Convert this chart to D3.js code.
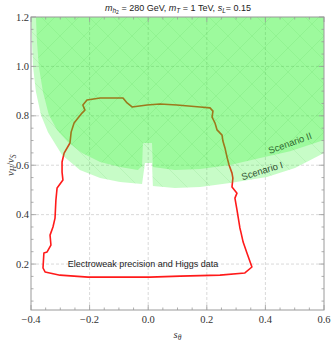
<!DOCTYPE html>
<html>
<head>
<meta charset="utf-8">
<script src="https://cdn.jsdelivr.net/npm/d3@7"></script>
<style>
  body { margin: 0; background: #fff; }
  svg { display: block; }
</style>
</head>
<body>
<svg id="chart"></svg>
<script>
// data (s_theta, vH/vS)
const contourPts = [
  [-0.209,0.864],[-0.164,0.872],[-0.086,0.872],[-0.072,0.852],[-0.055,0.836],[-0.004,0.844],
  [0.040,0.848],[0.098,0.844],[0.177,0.836],[0.211,0.832],[0.221,0.819],[0.218,0.795],
  [0.228,0.771],[0.235,0.743],[0.252,0.722],[0.255,0.698],[0.262,0.670],[0.269,0.633],
  [0.276,0.601],[0.286,0.568],[0.289,0.548],[0.286,0.512],[0.303,0.487],[0.296,0.467],
  [0.303,0.419],[0.313,0.346],[0.317,0.326],[0.324,0.289],[0.337,0.245],[0.354,0.188],
  [0.330,0.164],[0.245,0.155],[0.109,0.151],[0.006,0.147],[-0.096,0.147],[-0.205,0.147],
  [-0.301,0.155],[-0.352,0.168],[-0.359,0.184],[-0.356,0.245],[-0.345,0.249],[-0.332,0.277],
  [-0.335,0.317],[-0.325,0.350],[-0.318,0.386],[-0.315,0.459],[-0.311,0.508],[-0.291,0.540],
  [-0.294,0.572],[-0.294,0.613],[-0.287,0.649],[-0.267,0.690],[-0.263,0.734],[-0.253,0.771],
  [-0.226,0.811],[-0.216,0.823],[-0.223,0.844]
];

const scenario1 = [
  [-0.4,1.2],[-0.397,1.107],[-0.393,0.998],[-0.383,0.896],[-0.366,0.803],[-0.342,0.734],
  [-0.294,0.641],[-0.233,0.581],[-0.164,0.548],[-0.096,0.532],[-0.021,0.524],[-0.011,0.609],
  [0.013,0.609],[0.016,0.516],[0.091,0.508],[0.177,0.512],[0.279,0.528],[0.405,0.552],
  [0.501,0.589],[0.6,0.649],[0.6,1.2]
];

const scenario2 = [
  [-0.383,1.2],[-0.380,1.107],[-0.373,0.998],[-0.359,0.896],[-0.339,0.803],[-0.311,0.743],
  [-0.274,0.694],[-0.226,0.649],[-0.164,0.613],[-0.096,0.593],[-0.035,0.581],[-0.021,0.597],
  [-0.018,0.690],[0.013,0.690],[0.016,0.593],[0.091,0.581],[0.177,0.585],[0.279,0.601],
  [0.382,0.629],[0.484,0.657],[0.6,0.702],[0.6,1.2]
];

const xTicks = [-0.4, -0.2, 0.0, 0.2, 0.4, 0.6];
const yTicks = [0.2, 0.4, 0.6, 0.8, 1.0, 1.2];
const xTickLabels = ["\u22120.4", "\u22120.2", "0.0", "0.2", "0.4", "0.6"];
const yTickLabels = ["0.2", "0.4", "0.6", "0.8", "1.0", "1.2"];

const W = 332, H = 341;
const pL = 31, pR = 324, pT = 17, pB = 310;

const svg = d3.select("#chart").attr("width", W).attr("height", H);

const x = d3.scaleLinear().domain([-0.4, 0.6]).range([pL, pR]);
const y = d3.scaleLinear().domain([0.014, 1.2]).range([pB, pT]);

const defs = svg.append("defs");
defs.append("clipPath").attr("id", "plotclip")
  .append("rect").attr("x", pL).attr("y", pT)
  .attr("width", pR - pL).attr("height", pB - pT);

// faint hatch patterns
function hatch(id, d) {
  const p = defs.append("pattern").attr("id", id)
    .attr("patternUnits", "userSpaceOnUse")
    .attr("width", 24).attr("height", 24);
  p.append("path").attr("d", d)
    .attr("stroke", "rgba(0,150,0,0.13)").attr("stroke-width", 0.6).attr("fill", "none");
}
hatch("hatchA", "M0,24 L24,0 M-6,6 L6,-6 M18,30 L30,18");
hatch("hatchB", "M0,0 L24,24 M-6,18 L6,30 M18,-6 L30,6");

const plot = svg.append("g").attr("clip-path", "url(#plotclip)");

// grid
const gridX = [-0.2, 0.0, 0.2, 0.4];
const gridY = [0.2, 0.4, 0.6, 0.8, 1.0];
plot.selectAll(".gx").data(gridX).enter().append("line")
  .attr("x1", d => x(d)).attr("x2", d => x(d)).attr("y1", pT).attr("y2", pB)
  .attr("stroke", "#cfcfcf").attr("stroke-width", 0.8).attr("stroke-dasharray", "3,2");
plot.selectAll(".gy").data(gridY).enter().append("line")
  .attr("y1", d => y(d)).attr("y2", d => y(d)).attr("x1", pL).attr("x2", pR)
  .attr("stroke", "#cfcfcf").attr("stroke-width", 0.8).attr("stroke-dasharray", "3,2");

const line = d3.line().x(d => x(d[0])).y(d => y(d[1]));

// contour (drawn under the green so it turns brown inside)
plot.append("path")
  .attr("d", d3.line().x(d => x(d[0])).y(d => y(d[1])).curve(d3.curveLinearClosed)(contourPts))
  .attr("fill", "none").attr("stroke", "#ff1a1a").attr("stroke-width", 1.6)
  .attr("stroke-linejoin", "round");

// regions
[scenario1, scenario2].forEach((pts, i) => {
  plot.append("path").attr("d", line(pts) + "Z")
    .attr("fill", "rgb(30,245,30)").attr("fill-opacity", 0.25);
  plot.append("path").attr("d", line(pts) + "Z")
    .attr("fill", i === 0 ? "url(#hatchB)" : "url(#hatchA)");
});

// region labels
svg.append("text").attr("transform", `translate(${x(0.488)},${y(0.677)}) rotate(-20)`)
  .attr("text-anchor", "middle").attr("font-family", "Liberation Sans, Arial, sans-serif")
  .attr("font-size", 9.5).attr("fill", "#2f6b2f").text("Scenario II");
svg.append("text").attr("transform", `translate(${x(0.392)},${y(0.565)}) rotate(-17)`)
  .attr("text-anchor", "middle").attr("font-family", "Liberation Sans, Arial, sans-serif")
  .attr("font-size", 9.5).attr("fill", "#2f4f2f").text("Scenario I");

svg.append("text").attr("x", x(-0.018)).attr("y", y(0.2) + 3)
  .attr("text-anchor", "middle").attr("font-family", "Liberation Sans, Arial, sans-serif")
  .attr("font-size", 9).attr("fill", "#222").text("Electroweak precision and Higgs data");

// frame
svg.append("rect").attr("x", pL).attr("y", pT)
  .attr("width", pR - pL).attr("height", pB - pT)
  .attr("fill", "none").attr("stroke", "#9a9a9a").attr("stroke-width", 1);

// ticks (inward, all sides)
const minorX = d3.range(-0.4, 0.6001, 0.05).map(v => +v.toFixed(2));
const minorY = d3.range(0.05, 1.2001, 0.05).map(v => +v.toFixed(2)).filter(v => v >= 0.014);
const tk = svg.append("g").attr("stroke", "#9a9a9a").attr("stroke-width", 0.8);
minorX.forEach(v => {
  const major = xTicks.some(t => Math.abs(t - v) < 1e-6);
  const len = major ? 5 : 2.5;
  tk.append("line").attr("x1", x(v)).attr("x2", x(v)).attr("y1", pB).attr("y2", pB - len);
  tk.append("line").attr("x1", x(v)).attr("x2", x(v)).attr("y1", pT).attr("y2", pT + len);
});
minorY.forEach(v => {
  const major = yTicks.some(t => Math.abs(t - v) < 1e-6);
  const len = major ? 5 : 2.5;
  tk.append("line").attr("y1", y(v)).attr("y2", y(v)).attr("x1", pL).attr("x2", pL + len);
  tk.append("line").attr("y1", y(v)).attr("y2", y(v)).attr("x1", pR).attr("x2", pR - len);
});

// tick labels
const serif = "Liberation Serif, Times New Roman, serif";
svg.selectAll(".xl").data(xTicks).enter().append("text")
  .attr("x", d => x(d)).attr("y", pB + 13)
  .attr("text-anchor", "middle").attr("font-family", serif).attr("font-size", 10.5)
  .attr("fill", "#333").text((d, i) => xTickLabels[i]);
svg.selectAll(".yl").data(yTicks).enter().append("text")
  .attr("x", pL - 2).attr("y", d => y(d) + 3.5)
  .attr("text-anchor", "end").attr("font-family", serif).attr("font-size", 10.5)
  .attr("fill", "#333").text((d, i) => yTickLabels[i]);

// axis labels
const xl = svg.append("text").attr("x", x(0.1)).attr("y", 338)
  .attr("text-anchor", "middle").attr("font-family", serif).attr("font-size", 10.5).attr("fill", "#333");
xl.append("tspan").attr("font-style", "italic").text("s");
xl.append("tspan").attr("font-style", "italic").attr("font-size", 7.5).attr("dy", 2).text("\u03b8");

const yl = svg.append("text").attr("transform", `translate(14,${y(0.6)}) rotate(-90)`)
  .attr("text-anchor", "middle").attr("font-family", serif).attr("font-size", 10.5).attr("fill", "#333");
yl.append("tspan").attr("font-style", "italic").text("v");
yl.append("tspan").attr("font-style", "italic").attr("font-size", 7.5).attr("dy", 2).text("H");
yl.append("tspan").attr("dy", -2).text("/");
yl.append("tspan").attr("font-style", "italic").text("v");
yl.append("tspan").attr("font-style", "italic").attr("font-size", 7.5).attr("dy", 2).text("S");

// title
const tt = svg.append("text").attr("x", 178).attr("y", 11)
  .attr("text-anchor", "middle").attr("font-family", "Liberation Sans, Arial, sans-serif")
  .attr("font-size", 9).attr("fill", "#222");
tt.append("tspan").attr("font-style", "italic").text("m");
tt.append("tspan").attr("font-style", "italic").attr("font-size", 6.5).attr("dy", 2).text("h");
tt.append("tspan").attr("font-size", 5).attr("dy", 1).text("2");
tt.append("tspan").attr("dy", -3).text(" = 280 GeV, ");
tt.append("tspan").attr("font-style", "italic").text("m");
tt.append("tspan").attr("font-style", "italic").attr("font-size", 6.5).attr("dy", 2).text("T");
tt.append("tspan").attr("dy", -2).text(" = 1 TeV, ");
tt.append("tspan").attr("font-style", "italic").text("s");
tt.append("tspan").attr("font-style", "italic").attr("font-size", 6.5).attr("dy", 2).text("L");
tt.append("tspan").attr("dy", -2).text("= 0.15");
</script>
</body>
</html>
